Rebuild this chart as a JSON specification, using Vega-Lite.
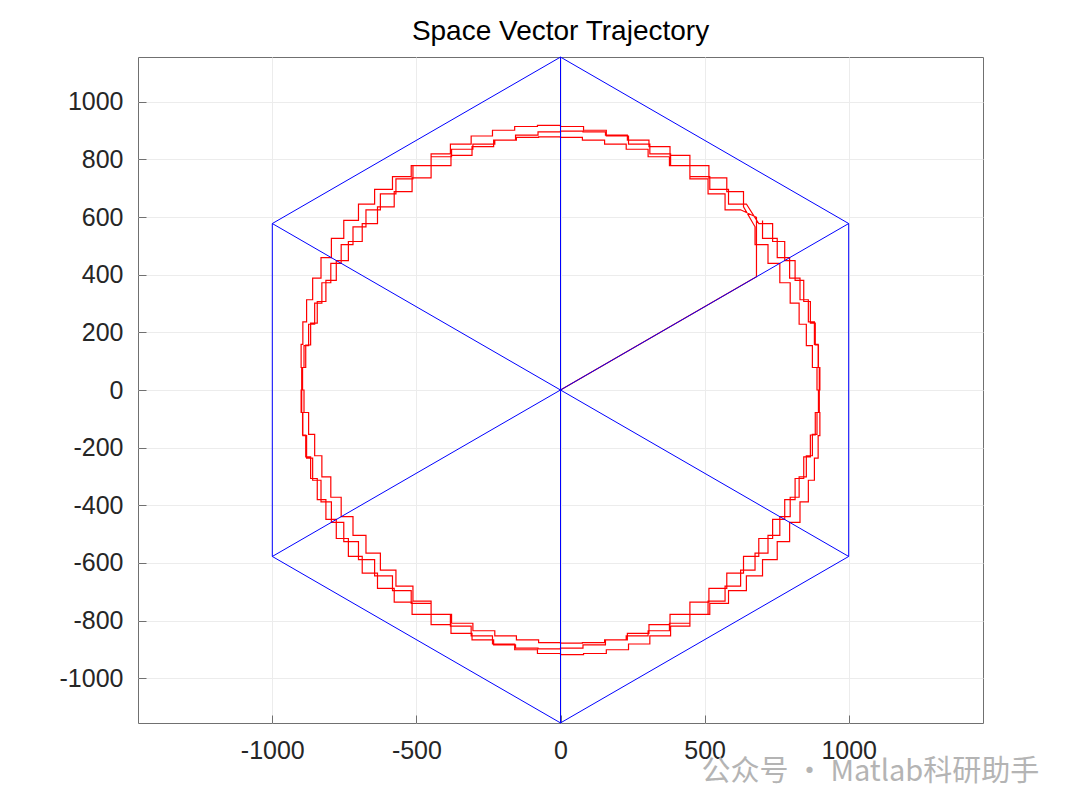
{
"$schema": "https://vega.github.io/schema/vega-lite/v6.json",
"width": 845, "height": 666,
"autosize": "none",
"padding": {"left": 138, "top": 57, "right": 97, "bottom": 88},
"background": "white",
"title": {"text": "Space Vector Trajectory", "fontSize": 28, "font": "Liberation Sans", "fontWeight": "normal", "color": "#000000", "anchor": "middle", "baseline": "alphabetic", "offset": 12.5, "dy": 24},
"config": {"view": {"stroke": "#707070", "strokeWidth": 1}},
"datasets": {
"traj": [
{"x":0,"y":0},{"x":680,"y":393},{"x":680,"y":599},
{"x":625,"y":625},{"x":571,"y":625},{"x":571,"y":680},{"x":512,"y":680},{"x":512,"y":732},{"x":449,"y":732},{"x":449,"y":778},{"x":378,"y":778},{"x":378,"y":809},{"x":304,"y":809},{"x":304,"y":835},{"x":228,"y":835},{"x":228,"y":853},{"x":153,"y":853},{"x":153,"y":867},{"x":76,"y":867},{"x":76,"y":876},{"x":0,"y":876},{"x":0,"y":878},{"x":-76,"y":878},{"x":-76,"y":876},{"x":-153,"y":876},{"x":-153,"y":867},{"x":-228,"y":867},{"x":-228,"y":853},{"x":-304,"y":853},{"x":-304,"y":835},{"x":-378,"y":835},{"x":-378,"y":809},{"x":-449,"y":809},{"x":-449,"y":778},{"x":-512,"y":778},{"x":-512,"y":732},{"x":-571,"y":732},{"x":-571,"y":680},{"x":-625,"y":680},{"x":-625,"y":625},{"x":-675,"y":625},{"x":-675,"y":566},{"x":-720,"y":566},{"x":-720,"y":504},{"x":-761,"y":504},{"x":-761,"y":439},{"x":-797,"y":439},{"x":-797,"y":372},{"x":-828,"y":372},{"x":-828,"y":301},{"x":-853,"y":301},{"x":-853,"y":228},{"x":-874,"y":228},{"x":-874,"y":154},{"x":-890,"y":154},{"x":-890,"y":78},{"x":-898,"y":78},{"x":-898,"y":0},{"x":-890,"y":0},{"x":-890,"y":-78},{"x":-874,"y":-78},{"x":-874,"y":-154},{"x":-853,"y":-154},{"x":-853,"y":-228},{"x":-828,"y":-228},{"x":-828,"y":-301},{"x":-797,"y":-301},{"x":-797,"y":-372},{"x":-761,"y":-372},{"x":-761,"y":-439},{"x":-720,"y":-439},{"x":-720,"y":-504},{"x":-675,"y":-504},{"x":-675,"y":-566},{"x":-625,"y":-566},{"x":-625,"y":-625},{"x":-571,"y":-625},{"x":-571,"y":-680},{"x":-512,"y":-680},{"x":-512,"y":-732},{"x":-449,"y":-732},{"x":-449,"y":-778},{"x":-378,"y":-778},{"x":-378,"y":-809},{"x":-304,"y":-809},{"x":-304,"y":-835},{"x":-228,"y":-835},{"x":-228,"y":-853},{"x":-153,"y":-853},{"x":-153,"y":-867},{"x":-76,"y":-867},{"x":-76,"y":-876},{"x":0,"y":-876},{"x":0,"y":-878},{"x":76,"y":-878},{"x":76,"y":-876},{"x":153,"y":-876},{"x":153,"y":-867},{"x":228,"y":-867},{"x":228,"y":-853},{"x":304,"y":-853},{"x":304,"y":-835},{"x":378,"y":-835},{"x":378,"y":-809},{"x":449,"y":-809},{"x":449,"y":-778},{"x":512,"y":-778},{"x":512,"y":-732},{"x":571,"y":-732},{"x":571,"y":-680},{"x":625,"y":-680},{"x":625,"y":-625},{"x":675,"y":-625},{"x":675,"y":-566},{"x":720,"y":-566},{"x":720,"y":-504},{"x":761,"y":-504},{"x":761,"y":-439},{"x":797,"y":-439},{"x":797,"y":-372},{"x":828,"y":-372},{"x":828,"y":-301},{"x":853,"y":-301},{"x":853,"y":-228},{"x":874,"y":-228},{"x":874,"y":-154},{"x":890,"y":-154},{"x":890,"y":-78},{"x":898,"y":-78},{"x":898,"y":0},{"x":890,"y":0},{"x":890,"y":78},{"x":874,"y":78},{"x":874,"y":154},{"x":853,"y":154},{"x":853,"y":228},{"x":828,"y":228},{"x":828,"y":301},{"x":797,"y":301},{"x":797,"y":372},{"x":761,"y":372},{"x":761,"y":439},{"x":720,"y":439},{"x":720,"y":504},{"x":675,"y":504},{"x":675,"y":566},
{"x":635,"y":635},{"x":635,"y":688},{"x":577,"y":688},{"x":577,"y":736},{"x":515,"y":736},{"x":515,"y":778},{"x":449,"y":778},{"x":449,"y":814},{"x":380,"y":814},{"x":380,"y":844},{"x":307,"y":844},{"x":307,"y":867},{"x":232,"y":867},{"x":232,"y":884},{"x":156,"y":884},{"x":156,"y":895},{"x":78,"y":895},{"x":78,"y":898},{"x":0,"y":898},{"x":0,"y":895},{"x":-78,"y":895},{"x":-78,"y":884},{"x":-156,"y":884},{"x":-156,"y":867},{"x":-232,"y":867},{"x":-232,"y":844},{"x":-307,"y":844},{"x":-307,"y":814},{"x":-380,"y":814},{"x":-380,"y":778},{"x":-449,"y":778},{"x":-449,"y":736},{"x":-515,"y":736},{"x":-515,"y":688},{"x":-577,"y":688},{"x":-577,"y":635},{"x":-635,"y":635},{"x":-635,"y":577},{"x":-688,"y":577},{"x":-688,"y":515},{"x":-736,"y":515},{"x":-736,"y":449},{"x":-778,"y":449},{"x":-778,"y":380},{"x":-814,"y":380},{"x":-814,"y":307},{"x":-844,"y":307},{"x":-844,"y":232},{"x":-867,"y":232},{"x":-867,"y":156},{"x":-884,"y":156},{"x":-884,"y":78},{"x":-895,"y":78},{"x":-895,"y":0},{"x":-898,"y":0},{"x":-898,"y":-78},{"x":-895,"y":-78},{"x":-895,"y":-156},{"x":-884,"y":-156},{"x":-884,"y":-232},{"x":-867,"y":-232},{"x":-867,"y":-307},{"x":-844,"y":-307},{"x":-844,"y":-380},{"x":-814,"y":-380},{"x":-814,"y":-449},{"x":-778,"y":-449},{"x":-778,"y":-515},{"x":-736,"y":-515},{"x":-736,"y":-577},{"x":-688,"y":-577},{"x":-688,"y":-635},{"x":-635,"y":-635},{"x":-635,"y":-688},{"x":-577,"y":-688},{"x":-577,"y":-736},{"x":-515,"y":-736},{"x":-515,"y":-778},{"x":-449,"y":-778},{"x":-449,"y":-814},{"x":-380,"y":-814},{"x":-380,"y":-844},{"x":-307,"y":-844},{"x":-307,"y":-867},{"x":-232,"y":-867},{"x":-232,"y":-884},{"x":-156,"y":-884},{"x":-156,"y":-895},{"x":-78,"y":-895},{"x":-78,"y":-898},{"x":0,"y":-898},{"x":0,"y":-895},{"x":78,"y":-895},{"x":78,"y":-884},{"x":156,"y":-884},{"x":156,"y":-867},{"x":232,"y":-867},{"x":232,"y":-844},{"x":307,"y":-844},{"x":307,"y":-814},{"x":380,"y":-814},{"x":380,"y":-778},{"x":449,"y":-778},{"x":449,"y":-736},{"x":515,"y":-736},{"x":515,"y":-688},{"x":577,"y":-688},{"x":577,"y":-635},{"x":635,"y":-635},{"x":635,"y":-577},{"x":688,"y":-577},{"x":688,"y":-515},{"x":736,"y":-515},{"x":736,"y":-449},{"x":778,"y":-449},{"x":778,"y":-380},{"x":814,"y":-380},{"x":814,"y":-307},{"x":844,"y":-307},{"x":844,"y":-232},{"x":867,"y":-232},{"x":867,"y":-156},{"x":884,"y":-156},{"x":884,"y":-78},{"x":895,"y":-78},{"x":895,"y":0},{"x":898,"y":0},{"x":898,"y":78},{"x":895,"y":78},{"x":895,"y":156},{"x":884,"y":156},{"x":884,"y":232},{"x":867,"y":232},{"x":867,"y":307},{"x":844,"y":307},{"x":844,"y":380},{"x":814,"y":380},{"x":814,"y":449},{"x":778,"y":449},{"x":778,"y":515},{"x":736,"y":515},{"x":736,"y":577},{"x":688,"y":577},
{"x":645,"y":645},{"x":583,"y":645},{"x":583,"y":696},{"x":518,"y":696},{"x":518,"y":740},{"x":449,"y":740},{"x":449,"y":778},{"x":382,"y":778},{"x":382,"y":819},{"x":310,"y":819},{"x":310,"y":853},{"x":236,"y":853},{"x":236,"y":881},{"x":159,"y":881},{"x":159,"y":901},{"x":80,"y":901},{"x":80,"y":914},{"x":0,"y":914},{"x":0,"y":918},{"x":-80,"y":918},{"x":-80,"y":914},{"x":-159,"y":914},{"x":-159,"y":901},{"x":-236,"y":901},{"x":-236,"y":881},{"x":-310,"y":881},{"x":-310,"y":853},{"x":-382,"y":853},{"x":-382,"y":819},{"x":-449,"y":819},{"x":-449,"y":778},{"x":-518,"y":778},{"x":-518,"y":740},{"x":-583,"y":740},{"x":-583,"y":696},{"x":-645,"y":696},{"x":-645,"y":645},{"x":-701,"y":645},{"x":-701,"y":588},{"x":-752,"y":588},{"x":-752,"y":526},{"x":-795,"y":526},{"x":-795,"y":459},{"x":-831,"y":459},{"x":-831,"y":388},{"x":-860,"y":388},{"x":-860,"y":313},{"x":-881,"y":313},{"x":-881,"y":236},{"x":-894,"y":236},{"x":-894,"y":158},{"x":-900,"y":158},{"x":-900,"y":78},{"x":-898,"y":78},{"x":-898,"y":0},{"x":-900,"y":0},{"x":-900,"y":-78},{"x":-894,"y":-78},{"x":-894,"y":-158},{"x":-881,"y":-158},{"x":-881,"y":-236},{"x":-860,"y":-236},{"x":-860,"y":-313},{"x":-831,"y":-313},{"x":-831,"y":-388},{"x":-795,"y":-388},{"x":-795,"y":-459},{"x":-752,"y":-459},{"x":-752,"y":-526},{"x":-701,"y":-526},{"x":-701,"y":-588},{"x":-645,"y":-588},{"x":-645,"y":-645},{"x":-583,"y":-645},{"x":-583,"y":-696},{"x":-518,"y":-696},{"x":-518,"y":-740},{"x":-449,"y":-740},{"x":-449,"y":-778},{"x":-382,"y":-778},{"x":-382,"y":-819},{"x":-310,"y":-819},{"x":-310,"y":-853},{"x":-236,"y":-853},{"x":-236,"y":-881},{"x":-159,"y":-881},{"x":-159,"y":-901},{"x":-80,"y":-901},{"x":-80,"y":-914},{"x":0,"y":-914},{"x":0,"y":-918},{"x":80,"y":-918},{"x":80,"y":-914},{"x":159,"y":-914},{"x":159,"y":-901},{"x":236,"y":-901},{"x":236,"y":-881},{"x":310,"y":-881},{"x":310,"y":-853},{"x":382,"y":-853},{"x":382,"y":-819},{"x":449,"y":-819},{"x":449,"y":-778},{"x":518,"y":-778},{"x":518,"y":-740},{"x":583,"y":-740},{"x":583,"y":-696},{"x":645,"y":-696},{"x":645,"y":-645},{"x":701,"y":-645},{"x":701,"y":-588},{"x":752,"y":-588},{"x":752,"y":-526},{"x":795,"y":-526},{"x":795,"y":-459},{"x":831,"y":-459},{"x":831,"y":-388},{"x":860,"y":-388},{"x":860,"y":-313},{"x":881,"y":-313},{"x":881,"y":-236},{"x":894,"y":-236},{"x":894,"y":-158},{"x":900,"y":-158},{"x":900,"y":-78},{"x":898,"y":-78},{"x":898,"y":0},{"x":900,"y":0},{"x":900,"y":78},{"x":894,"y":78},{"x":894,"y":158},{"x":881,"y":158},{"x":881,"y":236},{"x":860,"y":236},{"x":860,"y":313},{"x":831,"y":313},{"x":831,"y":388},{"x":795,"y":388},{"x":795,"y":459},{"x":752,"y":459},{"x":752,"y":526},{"x":701,"y":526},{"x":701,"y":588}
],
"hex": [
{"x":0,"y":1154.7,"x2":1000,"y2":577.35},
{"x":1000,"y":577.35,"x2":1000,"y2":-577.35},
{"x":1000,"y":-577.35,"x2":0,"y2":-1154.7},
{"x":0,"y":-1154.7,"x2":-1000,"y2":-577.35},
{"x":-1000,"y":-577.35,"x2":-1000,"y2":577.35},
{"x":-1000,"y":577.35,"x2":0,"y2":1154.7},
{"x":0,"y":-1154.7,"x2":0,"y2":1154.7},
{"x":-1000,"y":577.35,"x2":1000,"y2":-577.35},
{"x":-1000,"y":-577.35,"x2":1000,"y2":577.35}
]
},
"layer": [
{
"data": {"name": "traj"},
"mark": {"type": "line", "color": "#ff0000", "strokeWidth": 1.2},
"encoding": {
"x": {"field": "x", "type": "quantitative", "scale": {"domain": [-1466, 1466], "nice": false, "zero": false},
 "axis": {"values": [-1000, -500, 0, 500, 1000], "labelExpr": "'' + datum.value", "title": null, "grid": true, "gridColor": "#ececec", "domain": false, "tickSize": -8, "tickColor": "#707070", "labelFontSize": 25, "labelFont": "Liberation Sans", "labelColor": "#262626", "labelPadding": 23}},
"y": {"field": "y", "type": "quantitative", "scale": {"domain": [-1155, 1155], "nice": false, "zero": false},
 "axis": {"values": [-1000, -800, -600, -400, -200, 0, 200, 400, 600, 800, 1000], "labelExpr": "'' + datum.value", "title": null, "grid": true, "gridColor": "#ececec", "domain": false, "tickSize": -8, "tickColor": "#707070", "labelFontSize": 25, "labelFont": "Liberation Sans", "labelColor": "#262626", "labelPadding": 23}},
"order": {"value": null}
}
},
{
"data": {"name": "hex"},
"mark": {"type": "rule", "color": "#0000ff", "strokeWidth": 1},
"encoding": {
"x": {"field": "x", "type": "quantitative"},
"y": {"field": "y", "type": "quantitative"},
"x2": {"field": "x2"},
"y2": {"field": "y2"}
}
},
{
"data": {"values": [{"t": "公众号 · Matlab科研助手"}]},
"mark": {"type": "text", "font": "Noto Sans CJK SC", "fontSize": 29, "color": "#b4b4b4", "align": "left", "baseline": "alphabetic"},
"encoding": {
"text": {"field": "t"},
"x": {"datum": 489},
"y": {"datum": -1355}
}
}
]
}
